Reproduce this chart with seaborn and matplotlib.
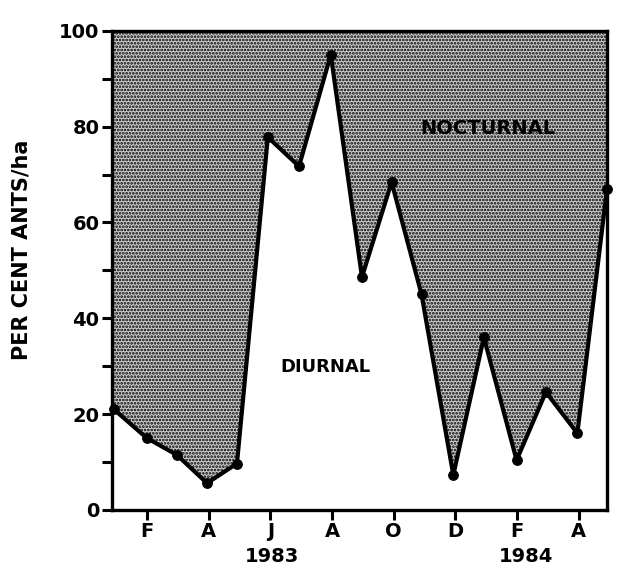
import numpy as np
import pandas as pd
import matplotlib
matplotlib.use("Agg")
import matplotlib.pyplot as plt
import seaborn as sns

# months counted from Jan 1983 (0) to May 1984 (16)
months = [-0.07, 1.0, 1.97, 2.95, 3.92, 4.92, 5.93, 6.96, 7.97, 8.93, 9.9, 10.93, 11.92, 12.98, 13.93, 14.95, 15.91]
diurnal = [21, 15, 11.5, 5.6, 9.7, 77.8, 71.7, 95, 48.6, 68.4, 45, 7.3, 36, 10.4, 24.6, 16, 67]

tick_pos = [1, 3, 5, 7, 9, 11, 13, 15]
tick_labels = ["F", "A", "J", "A", "O", "D", "F", "A"]
years = ["1983", "1984"]
year_pos = [5.05, 13.3]

df = pd.DataFrame({"month": months, "pct": diurnal})

sns.set_style("ticks")
plt.rcParams["font.family"] = ["DejaVu Sans"]
plt.rcParams["font.weight"] = "bold"
plt.rcParams["text.color"] = "black"
plt.rcParams["axes.labelcolor"] = "black"
plt.rcParams["xtick.color"] = "black"
plt.rcParams["ytick.color"] = "black"
plt.rcParams["hatch.linewidth"] = 1.3

fig = plt.figure(figsize=(6.18, 5.69), dpi=100)
ax = fig.add_axes([0.1812, 0.1037, 0.8010, 0.8423])

# nocturnal share = stippled area above the line
ax.fill_between(df["month"], df["pct"], 100, facecolor="#cccccc", edgecolor="#000000",
                hatch=".....", linewidth=0)
sns.lineplot(data=df, x="month", y="pct", ax=ax, color="black", lw=3,
             marker="o", markersize=7, markeredgecolor="black", clip_on=False)

ax.set_xlim(-0.13, 15.91)
ax.set_ylim(0, 100)
ax.set_yticks(np.arange(0, 101, 20))
ax.set_yticks(np.arange(10, 100, 20), minor=True)
ax.set_xticks(tick_pos)
ax.set_xticklabels(tick_labels)
ax.tick_params(axis="both", which="both", direction="out", width=2.2, length=7,
               labelsize=14, pad=2)
for s in ax.spines.values():
    s.set_visible(True)
    s.set_linewidth(2.4)
    s.set_color("black")

ax.set_xlabel("")
ax.set_ylabel("PER CENT ANTS/ha", fontsize=15, fontweight="bold")
ax.yaxis.set_label_coords(-0.163, 0.543)

for yr, xp in zip(years, year_pos):
    ax.text(xp, -0.098, yr, transform=ax.get_xaxis_transform(), ha="center", va="center",
            fontsize=14, fontweight="bold")

ax.text(12.05, 79.5, "NOCTURNAL", ha="center", va="center", fontsize=14, fontweight="bold")
ax.text(6.8, 29.8, "DIURNAL", ha="center", va="center", fontsize=13, fontweight="bold")

fig.savefig("out.png", dpi=100)
